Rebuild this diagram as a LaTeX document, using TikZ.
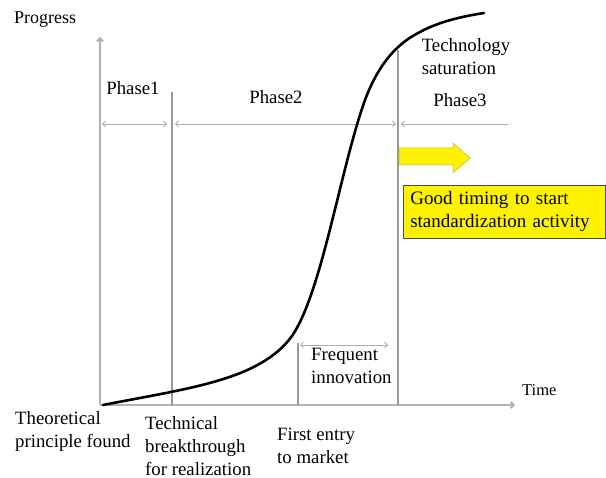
\documentclass[tikz,border=0pt]{standalone}
\usepackage{fontspec}
\setmainfont{Liberation Serif}
\usetikzlibrary{arrows.meta}

\begin{document}
\begin{tikzpicture}[x=1pt,y=-1pt,>={Straight Barb[length=3pt,width=6pt]},font=\fontsize{18.8}{23}\selectfont]
	\tikzstyle{axis}=[->,draw=gray!60,line width=2pt]
	\tikzstyle{guide}=[draw=gray!80,line width=1.3pt]
	\tikzstyle{span}=[draw=gray!65,line width=0.8pt]
	\tikzstyle{every node}=[inner sep=0pt,align=left]

	\useasboundingbox (0,0) rectangle (606,478);

	% axes
	\coordinate (O) at (100,405);
	\coordinate (Ytop) at (100,37);
	\coordinate (Xend) at (515,405);
	\path (O) edge[axis] (Ytop);
	\path (O) edge[axis] (Xend);

	% phase borders
	\coordinate (B1top) at (172,92);   \coordinate (B1bot) at (172,405);
	\coordinate (B2top) at (298,343);  \coordinate (B2bot) at (298,405);
	\coordinate (B3top) at (398,50);   \coordinate (B3bot) at (398,405);
	\path (B1top) edge[guide] (B1bot);
	\path (B2top) edge[guide] (B2bot);
	\path (B3top) edge[guide] (B3bot);

	% phase spans
	\coordinate (P1a) at (102,124); \coordinate (P1b) at (167,124);
	\coordinate (P2a) at (175,124); \coordinate (P2b) at (396,124);
	\coordinate (P3a) at (401,124); \coordinate (P3b) at (508,124);
	\coordinate (Fa) at (300,345);  \coordinate (Fb) at (388,345);
	\path (P1a) edge[span,<->] (P1b);
	\path (P2a) edge[span,<->] (P2b);
	\path (P3b) edge[span,->] (P3a);
	\path (Fa) edge[span,<->] (Fb);

	% s-curve
	\draw[line width=2.6pt,line cap=round] (103,405)
		.. controls (190,388) and (260,380) .. (292,336)
		.. controls (322,292) and (340,170) .. (365,100)
		.. controls (380,60) and (400,42) .. (420,32)
		.. controls (440,21) and (465,16) .. (484,13);

	% yellow arrow
	\filldraw[fill=yellow,draw=yellow!70!black,line width=0.5pt]
		(399,148) -- (453,148) -- (453,143) -- (470,158) -- (453,173) -- (453,165) -- (399,165) -- cycle;

	% labels
	\node (prog) [anchor=west] at (14,20) {\fontsize{18}{20}\selectfont Progress};
	\node (time) [anchor=west] at (522,390) {\fontsize{16.5}{18}\selectfont Time};
	\node (ph1) at (133,88) {Phase1};
	\node (ph2) at (276,97) {Phase2};
	\node (ph3) at (460,100) {Phase3};
	\node (sat) at (466,57) {Technology\\saturation};
	\node (freq) [anchor=west] at (311,366) {Frequent\\innovation};
	\node (theo) [anchor=west] at (15,431) {Theoretical\\principle found};
	\node (brk) [anchor=west] at (145,446) {\fontsize{18.8}{22}\selectfont Technical\\breakthrough\\for realization};
	\node (entry) [anchor=west] at (277,446) {First entry\\to market};
	\node (timing) [anchor=north west,draw=gray!60!black,fill=yellow,line width=0.6pt,
		minimum width=202pt,minimum height=53pt,text width=188pt,inner xsep=7pt,
		font=\fontsize{19}{23}\selectfont]
		at (403,185) {Good timing to start\\standardization activity};
\end{tikzpicture}
\end{document}
